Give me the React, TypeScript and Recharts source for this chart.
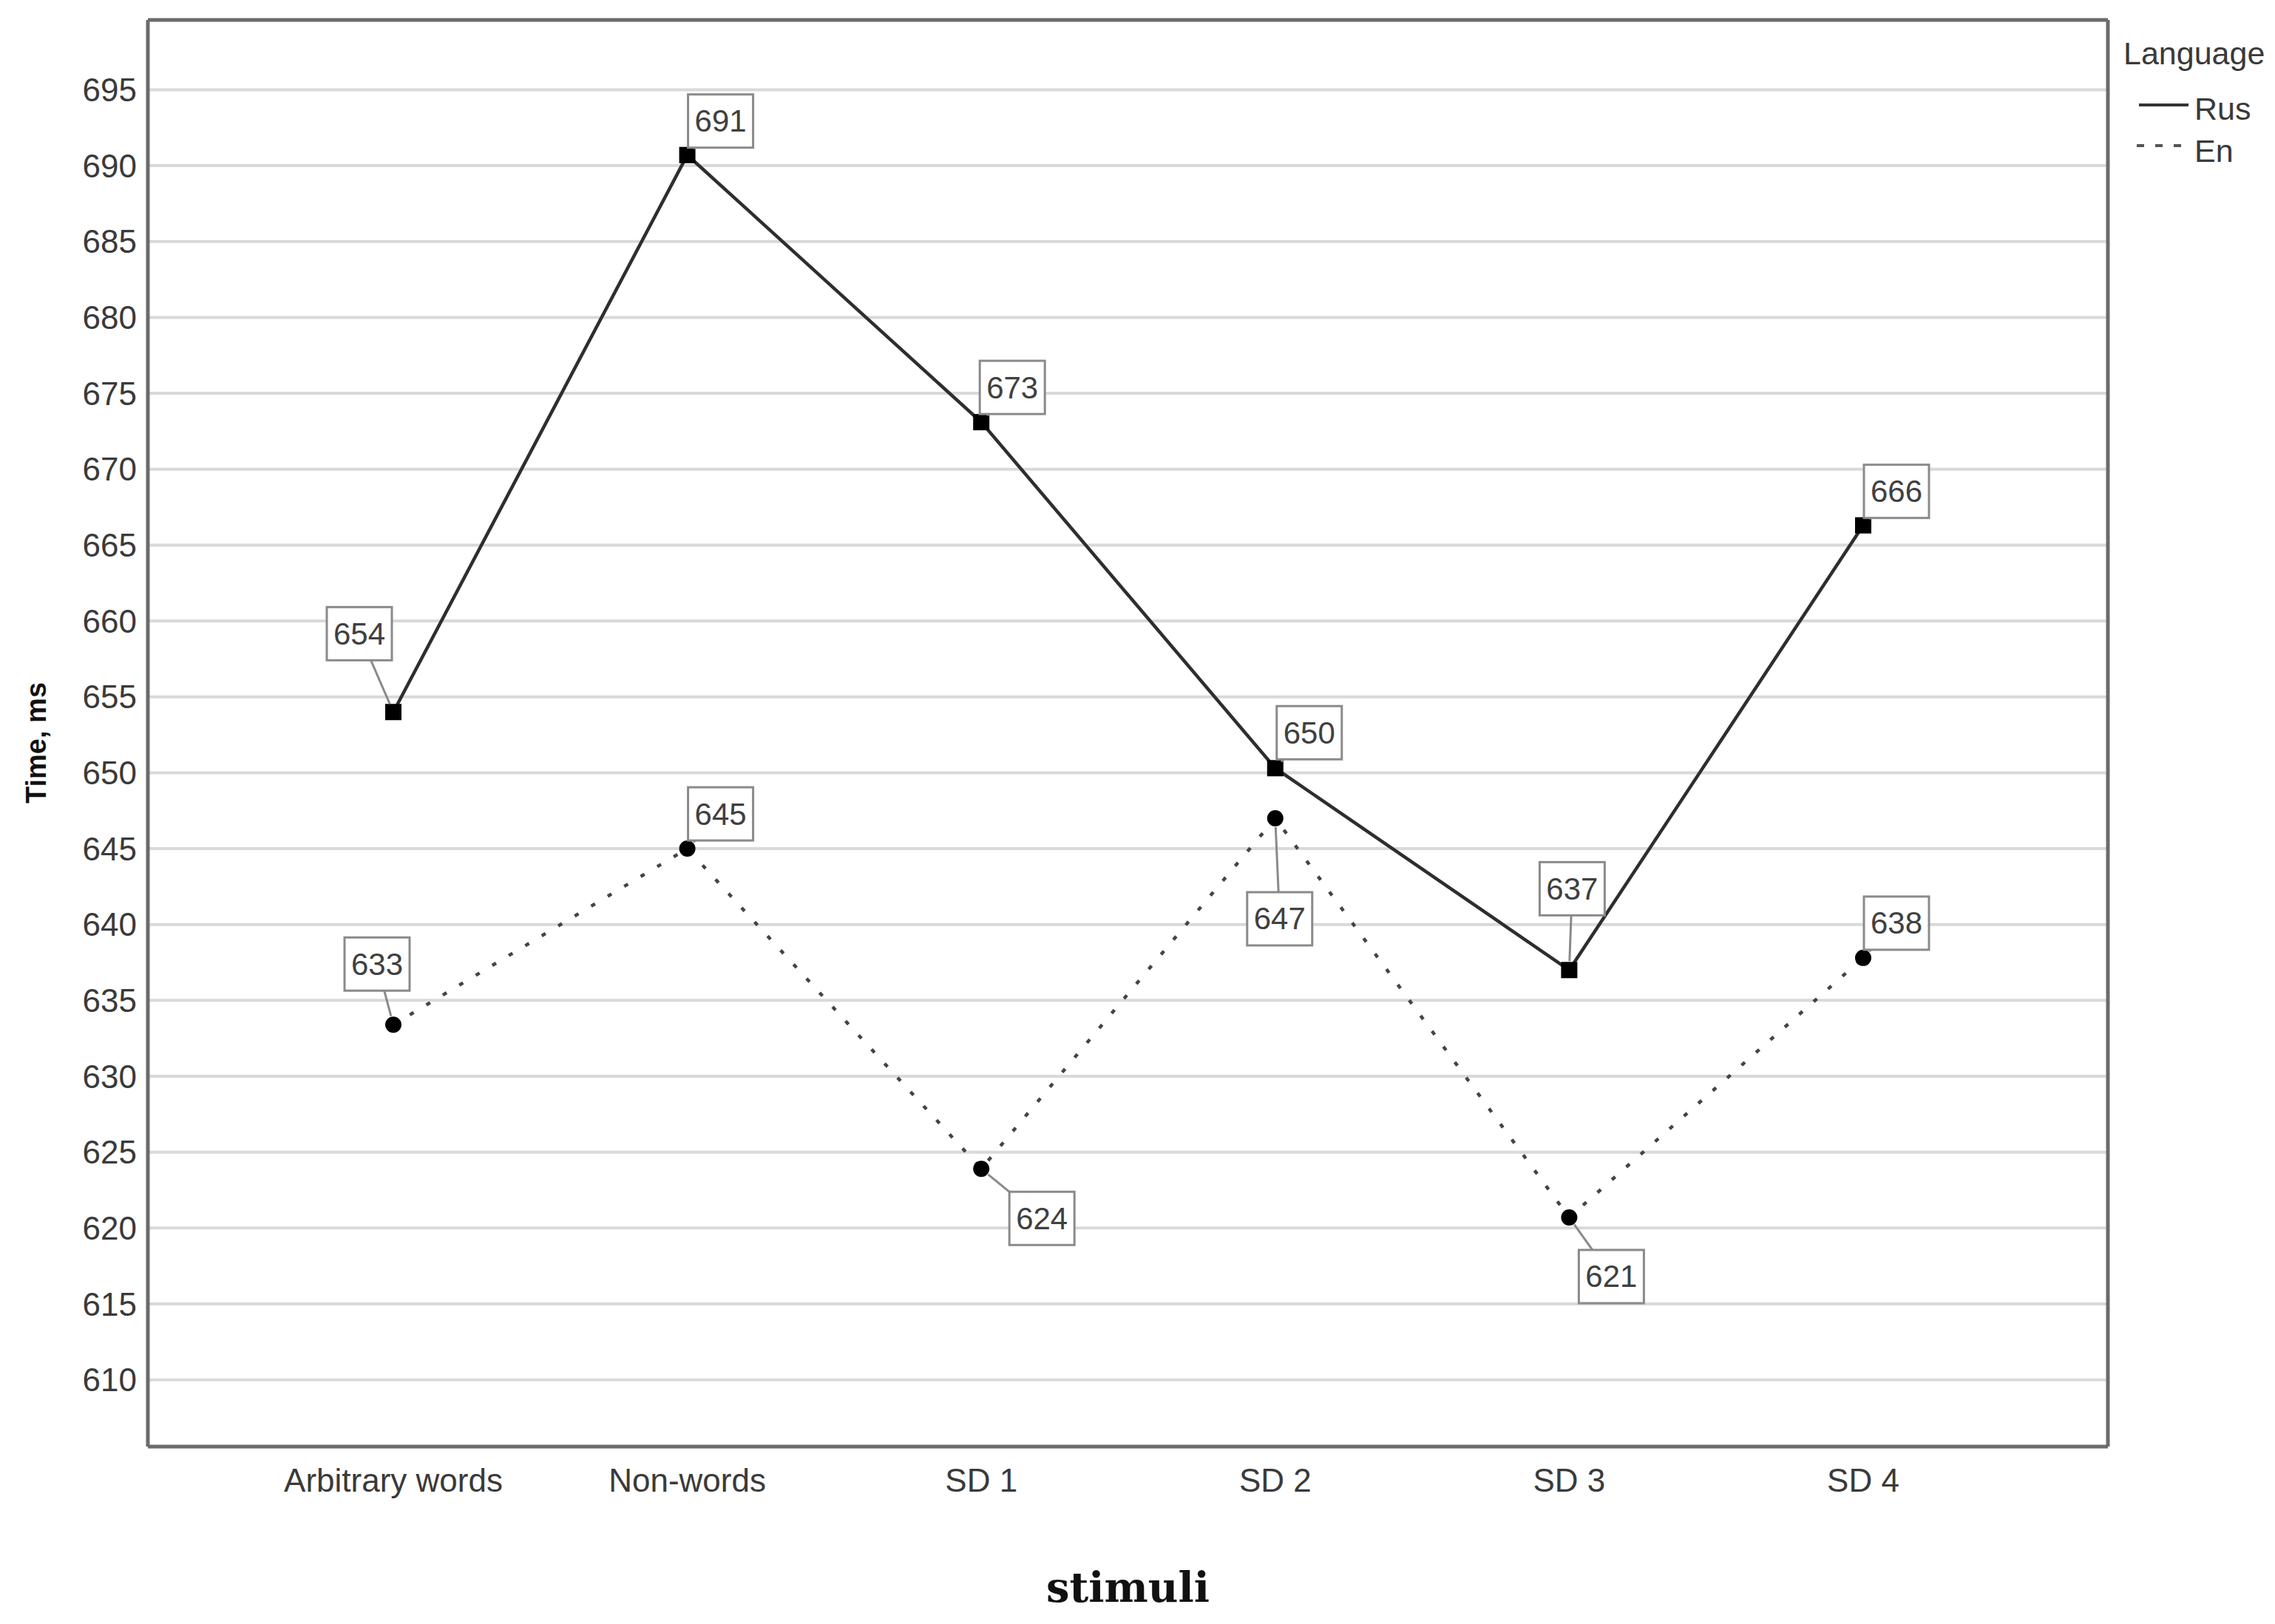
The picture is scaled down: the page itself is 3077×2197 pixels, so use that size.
import { LineChart, Line, XAxis, YAxis, CartesianGrid, LabelList } from "recharts"

// stimuli on the x axis
const categories = ["Arbitrary words", "Non-words", "SD 1", "SD 2", "SD 3", "SD 4"]
// mean reaction time, ms
const rusTimes = [654.0, 690.7, 673.1, 650.3, 637.0, 666.3]
const enTimes = [633.4, 645.0, 623.9, 647.0, 620.7, 637.8]
const yTicks = [610, 615, 620, 625, 630, 635, 640, 645, 650, 655, 660, 665, 670, 675, 680, 685, 690, 695]

// where each value box sits relative to its point (layout only)
const rusLabelOffsets = [[-46, -106], [45, -46], [42, -47], [46, -48], [4, -110], [45, -46]]
const enLabelOffsets = [[-22, -82], [45, -47], [82, 67], [6, 136], [57, 80], [45, -47]]

const Y_MIN = 605.6
const Y_MAX = 699.6
const TEXT = "#3a3a3a"

const data = categories.map((name, i) => ({ name, rus: rusTimes[i], en: enTimes[i] }))

const boxLabel = (offsets: number[][]) => (props: any) => {
  const { index, value } = props
  const vb = props.viewBox || {}
  const px = props.x ?? vb.x
  const py = props.y ?? vb.y
  if (px == null || py == null || !offsets[index]) return null
  const [dx, dy] = offsets[index]
  const cx = px + dx
  const cy = py + dy
  const w = 88
  const h = 72
  const len = Math.hypot(dx, dy) || 1
  return (
    <g>
      <line x1={px + (dx / len) * 12} y1={py + (dy / len) * 12} x2={cx} y2={cy} stroke="#8a8a8a" strokeWidth={3} />
      <rect x={cx - w / 2} y={cy - h / 2} width={w} height={h} fill="#fff" stroke="#8a8a8a" strokeWidth={3} />
      <text x={cx} y={cy} textAnchor="middle" dominantBaseline="central" fontSize={42} fill="#404040">
        {Math.round(value)}
      </text>
    </g>
  )
}

const squareDot = (props: any) => {
  const { cx, cy, index } = props
  return <rect key={`rus-dot-${index}`} x={cx - 11} y={cy - 11} width={22} height={22} fill="#000" />
}

const circleDot = (props: any) => {
  const { cx, cy, index } = props
  return <circle key={`en-dot-${index}`} cx={cx} cy={cy} r={11} fill="#000" />
}

// plot frame: lines on the edges of the plot area
const frameX = ({ offset }: any) => [offset.left, offset.left + offset.width]
const frameY = ({ offset }: any) => [offset.top, offset.top + offset.height]

export default function App() {
  return (
    <div style={{ position: "relative", width: 3061, height: 2181, fontFamily: "'Liberation Sans', Arial, sans-serif" }}>
      <LineChart width={3061} height={2181} data={data} margin={{ top: 19, right: 218, bottom: 132, left: 0 }}>
        <CartesianGrid vertical={false} stroke="#d9d9d9" strokeWidth={4} />
        <CartesianGrid
          verticalCoordinatesGenerator={frameX}
          horizontalCoordinatesGenerator={frameY}
          stroke="#6b6b6b"
          strokeWidth={5}
        />
        <XAxis
          dataKey="name"
          height={100}
          padding={{ left: 332, right: 331 }}
          tickLine={false}
          axisLine={false}
          tickSize={0}
          tickMargin={30}
          tick={{ fontSize: 44, fill: TEXT }}
          label={{
            value: "stimuli",
            content: (p: any) => {
              const vb = p.viewBox || {}
              return (
                <text
                  x={vb.x + vb.width / 2}
                  y={vb.y + 210}
                  textAnchor="middle"
                  fontFamily="'DejaVu Serif', serif"
                  fontWeight="bold"
                  fontSize={56}
                  fill="#111"
                >
                  stimuli
                </text>
              )
            },
          }}
        />
        <YAxis
          width={192}
          domain={[Y_MIN, Y_MAX]}
          ticks={yTicks}
          interval={0}
          tickLine={false}
          axisLine={false}
          tickSize={0}
          tickMargin={15}
          tick={{ fontSize: 44, fill: TEXT }}
          label={{
            value: "Time, ms",
            content: (p: any) => {
              const vb = p.viewBox || {}
              const x = vb.x + 41
              const y = vb.y + vb.height / 2 + 13
              return (
                <text
                  x={x}
                  y={y}
                  transform={`rotate(-90, ${x}, ${y})`}
                  textAnchor="middle"
                  dominantBaseline="central"
                  fontWeight="bold"
                  fontSize={38}
                  fill="#111"
                >
                  Time, ms
                </text>
              )
            },
          }}
        />
        <Line
          dataKey="rus"
          stroke="#2e2e2e"
          strokeWidth={4.5}
          dot={squareDot}
          activeDot={false}
          isAnimationActive={false}
        >
          <LabelList dataKey="rus" content={boxLabel(rusLabelOffsets)} />
        </Line>
        <Line
          dataKey="en"
          stroke="#444"
          strokeWidth={4.5}
          strokeDasharray="6 20"
          dot={circleDot}
          activeDot={false}
          isAnimationActive={false}
        >
          <LabelList dataKey="en" content={boxLabel(enLabelOffsets)} />
        </Line>
      </LineChart>
      <svg
        width={3061}
        height={2181}
        style={{ position: "absolute", left: 0, top: 0, pointerEvents: "none" }}
      >
        <text x={2864} y={79} fontSize={43} fill={TEXT}>
          Language
        </text>
        <line x1={2885} y1={134} x2={2952} y2={134} stroke="#333" strokeWidth={4} />
        <text x={2960} y={154} fontSize={43} fill={TEXT}>
          Rus
        </text>
        <line x1={2882} y1={189} x2={2942} y2={189} stroke="#555" strokeWidth={4} strokeDasharray="10 15" />
        <text x={2960} y={211} fontSize={43} fill={TEXT}>
          En
        </text>
      </svg>
    </div>
  )
}
